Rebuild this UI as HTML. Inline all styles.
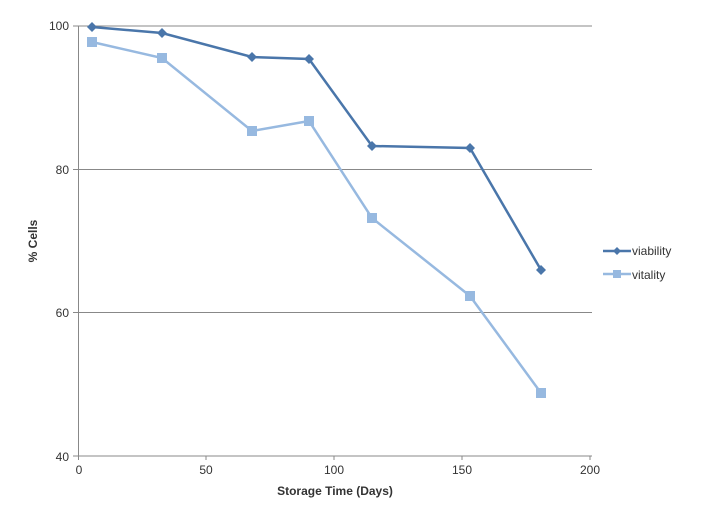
<!DOCTYPE html>
<html><head><style>body{margin:0;background:#fff}</style></head><body>
<svg width="708" height="522" xmlns="http://www.w3.org/2000/svg" font-family="Liberation Sans, sans-serif">
<g stroke="#888" stroke-width="1">
<line x1="78" y1="26" x2="592" y2="26"/>
<line x1="78" y1="169.5" x2="592" y2="169.5"/>
<line x1="78" y1="312.5" x2="592" y2="312.5"/>
<line x1="78" y1="456" x2="592" y2="456"/>
<line x1="78.5" y1="26" x2="78.5" y2="460"/>
<line x1="73" y1="26" x2="78" y2="26"/><line x1="73" y1="169.5" x2="78" y2="169.5"/><line x1="73" y1="312.5" x2="78" y2="312.5"/><line x1="73" y1="456" x2="78" y2="456"/>
<line x1="206" y1="456" x2="206" y2="460"/><line x1="334" y1="456" x2="334" y2="460"/><line x1="462" y1="456" x2="462" y2="460"/><line x1="590" y1="456" x2="590" y2="460"/>
</g>
<g font-size="12" fill="#333" text-anchor="end">
<text x="69" y="30">100</text><text x="69" y="174">80</text><text x="69" y="317">60</text><text x="69" y="461">40</text>
</g>
<g font-size="12" fill="#333" text-anchor="middle">
<text x="79" y="474">0</text><text x="206" y="474">50</text><text x="334" y="474">100</text><text x="462" y="474">150</text><text x="590" y="474">200</text>
</g>
<text x="335" y="495" font-size="12" font-weight="bold" fill="#333" text-anchor="middle">Storage Time (Days)</text>
<text transform="translate(37,241) rotate(-90)" font-size="12" font-weight="bold" fill="#333" text-anchor="middle">% Cells</text>
<polyline fill="none" stroke="#97b9e0" stroke-width="2.5" points="92,42 162,58 252,131 309,121 372,218 470,296 541,393"/>
<g fill="#97b9e0">
<rect x="87" y="37" width="10" height="10"/><rect x="157" y="53" width="10" height="10"/><rect x="247" y="126" width="10" height="10"/><rect x="304" y="116" width="10" height="10"/><rect x="367" y="213" width="10" height="10"/><rect x="465" y="291" width="10" height="10"/><rect x="536" y="388" width="10" height="10"/>
</g>
<polyline fill="none" stroke="#4a76aa" stroke-width="2.5" points="92,27 162,33 252,57 309,59 372,146 470,148 541,270"/>
<g fill="#4a76aa">
<path d="M92,22l5,5l-5,5l-5,-5z"/><path d="M162,28l5,5l-5,5l-5,-5z"/><path d="M252,52l5,5l-5,5l-5,-5z"/><path d="M309,54l5,5l-5,5l-5,-5z"/><path d="M372,141l5,5l-5,5l-5,-5z"/><path d="M470,143l5,5l-5,5l-5,-5z"/><path d="M541,265l5,5l-5,5l-5,-5z"/>
</g>
<line x1="603" y1="251" x2="631" y2="251" stroke="#4a76aa" stroke-width="2.5"/>
<path d="M617,247l4,4l-4,4l-4,-4z" fill="#4a76aa"/>
<text x="632" y="255" font-size="12" fill="#333">viability</text>
<line x1="603" y1="274" x2="631" y2="274" stroke="#97b9e0" stroke-width="2.5"/>
<rect x="613" y="270" width="8" height="8" fill="#97b9e0"/>
<text x="632" y="279" font-size="12" fill="#333">vitality</text>
</svg>
</body></html>
